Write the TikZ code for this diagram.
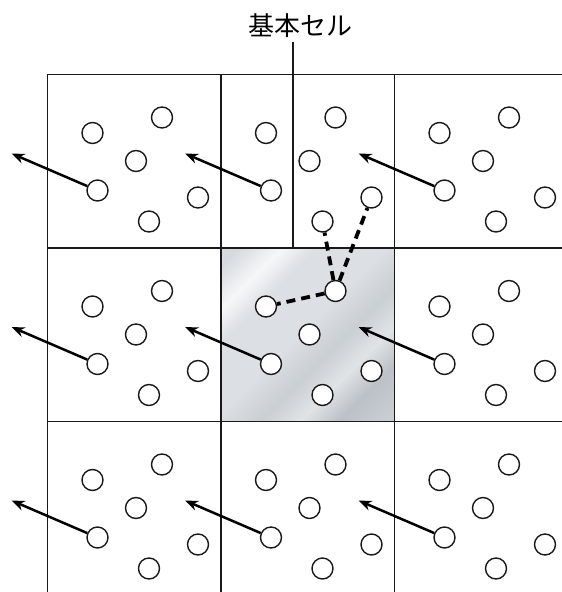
\documentclass[tikz,border=0pt]{standalone}
\usepackage{fontspec}
\newfontfamily\jpfont{Noto Sans CJK JP}
\usetikzlibrary{arrows.meta}
\definecolor{mA}{RGB}{214,218,222}
\definecolor{mB}{RGB}{246,247,248}
\definecolor{mC}{RGB}{220,223,227}
\definecolor{mD}{RGB}{202,207,212}
\definecolor{mE}{RGB}{188,193,199}
\definecolor{mF}{RGB}{224,227,230}
\definecolor{lineC}{RGB}{25,25,25}
\pgfdeclarehorizontalshading{metal}{100bp}{color(0bp)=(mA); color(18bp)=(mA); color(27bp)=(mB); color(34bp)=(mC); color(48bp)=(mC); color(58bp)=(mD); color(66bp)=(mF); color(74bp)=(mE); color(84bp)=(mD); color(100bp)=(mD)}
\tikzset{
  cellbox/.style={draw=lineC, line width=1.7pt},
  atom/.style={circle, draw=lineC, line width=1.4pt, fill=white, minimum size=21pt, inner sep=0pt},
  vec/.style={draw=black, line width=2.5pt, -{Stealth[length=13pt,width=10pt]}},
  nbr/.style={draw=black, line width=3.8pt, dash pattern=on 9pt off 6pt},
  labelline/.style={draw=lineC, line width=1.5pt},
}
\begin{document}
\begin{tikzpicture}[x=1pt,y=-1pt]
\path[use as bounding box] (0,0) rectangle (562,592);
\clip (0,0) rectangle (562,592);
% shaded basic cell
\shade[shading=metal, shading angle=-45] (221,248) rectangle (394.5,421.5);
% cells
\foreach \i in {0,1,2}{
  \foreach \j in {0,1,2}{
    \pgfmathsetmacro\ox{47.5+173.5*\i}
    \pgfmathsetmacro\oy{74.5+173.5*\j}
    \begin{scope}[shift={(\ox,\oy)}]
      \draw[cellbox] (0,0) rectangle (173.5,173.5);
    \end{scope}
  }
}
% label
\node[font=\jpfont\fontsize{26}{30}\selectfont, inner sep=0pt] (lbl) at (300,26) {基本セル};
\coordinate (lt) at (293,42);
\coordinate (lb) at (293,248);
\draw[labelline] (lt) -- (lb);
% atoms and displacement arrows
\foreach \i in {0,1,2}{
  \foreach \j in {0,1,2}{
    \pgfmathsetmacro\ox{47.5+173.5*\i}
    \pgfmathsetmacro\oy{74.5+173.5*\j}
    \begin{scope}[shift={(\ox,\oy)}]
      \node[atom] (p\i\j A) at (45,58.5) {};
      \node[atom] (p\i\j B) at (114.5,43) {};
      \node[atom] (p\i\j C) at (88.5,86.5) {};
      \node[atom] (p\i\j D) at (50,116) {};
      \node[atom] (p\i\j E) at (150.5,123) {};
      \node[atom] (p\i\j F) at (101.5,147) {};
      \coordinate (t\i\j) at (-36,79);
      \draw[vec] (p\i\j D) -- (t\i\j);
    \end{scope}
  }
}
% neighbour links
\draw[nbr] (p11B) -- (p11A);
\draw[nbr] (p11B) -- (p10F);
\draw[nbr] (p11B) -- (p10E);
\end{tikzpicture}
\end{document}
